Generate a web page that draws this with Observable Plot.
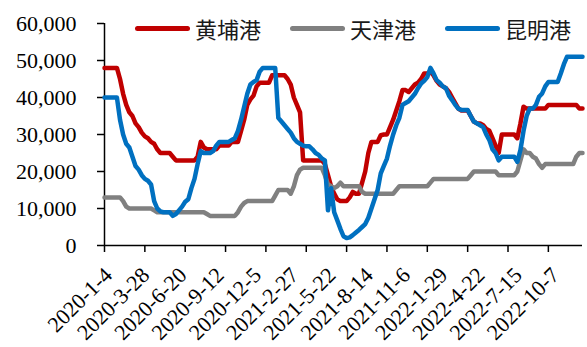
<!DOCTYPE html>
<html>
<head>
<meta charset="utf-8">
<script src="https://cdn.jsdelivr.net/npm/d3@7"></script>
<script src="https://cdn.jsdelivr.net/npm/@observablehq/plot@0.6"></script>
<style>
  body { margin: 0; background: #fff; }
  #chart { position: relative; width: 587px; height: 347px; }
  .legend { position: absolute; top: 12px; left: 135px; display: flex; align-items: center; white-space: nowrap;
            width: max-content; font-family: "Noto Sans CJK SC", sans-serif; font-size: 22px; color: #1a1a1a; }
  .item { display: flex; align-items: center; margin-right: 29px; flex: none; }
  .sw { width: 55px; height: 5px; border-radius: 3px; margin-right: 5px; flex: none; }
</style>
</head>
<body>
<div id="chart"></div>
<script>
// Weekly port prices, first week 2020-1-4
const series = ["黄埔港", "天津港", "昆明港"];
const colors = ["#C00000", "#808080", "#0070C0"];

const huangpu = [
  48000, 48000, 48000, 48000, 48000, 45000, 41000, 38000, 36000, 35000,
  33000, 32000, 30500, 29500, 29000, 28000, 27500, 26000, 25000, 25000,
  25000, 25000, 24000, 23000, 23000, 23000, 23000, 23000, 23000, 23000,
  24000, 28000, 26500, 26000, 26000, 26000, 26000, 27000, 27000, 27000,
  27000, 28000, 28000, 28000, 31000, 34000, 38000, 39500, 40500, 43000,
  44000, 44000, 44000, 44000, 46000, 46000, 46000, 46000, 46000, 45000,
  43500, 40000, 38000, 36000, 23000, 23000, 23000, 23000, 23000, 23000,
  23000, 22000, 19000, 16000, 14000, 12500, 12000, 12000, 12000, 13000,
  14500, 14000, 14000, 17000, 20000, 25000, 28000, 28000, 28000, 29800,
  30000, 30000, 32000, 34000, 36500, 39000, 42000, 42000, 41500, 42500,
  43500, 44000, 45000, 46500, 46500, 47000, 46000, 44500, 43500, 43000,
  42500, 41500, 40000, 38500, 37000, 36500, 36500, 36500, 35000, 33500,
  33000, 33000, 32500, 31500, 31000, 29000, 27000, 25000, 30000, 30000,
  30000, 30000, 30000, 29000, 33000, 37500, 37000, 37000, 37000, 37000,
  37000, 37000, 37000, 38000, 38000, 38000, 38000, 38000, 38000, 38000,
  38000, 38000, 38000, 37000, 37000
];

const tianjin = [
  13000, 13000, 13000, 13000, 13000, 13000, 12000, 10500, 10000, 10000,
  10000, 10000, 10000, 10000, 10000, 10000, 9500, 9000, 9000, 9000,
  9000, 9000, 9000, 9000, 9000, 9000, 9000, 9000, 9000, 9000,
  9000, 9000, 9000, 8500, 8000, 8000, 8000, 8000, 8000, 8000,
  8000, 8000, 8000, 9000, 10500, 11500, 12000, 12000, 12000, 12000,
  12000, 12000, 12000, 12000, 12000, 13500, 15000, 15000, 15000, 15000,
  14000, 16000, 19000, 20500, 21000, 21000, 21000, 21000, 21000, 21000,
  21000, 19000, 16500, 16000, 15500, 16000, 17000, 16000, 16000, 16000,
  16000, 16000, 16000, 14500, 14000, 14000, 14000, 14000, 14000, 14000,
  14000, 14000, 14000, 14000, 15000, 16000, 16000, 16000, 16000, 16000,
  16000, 16000, 16000, 16000, 16000, 17000, 18000, 18000, 18000, 18000,
  18000, 18000, 18000, 18000, 18000, 18000, 18000, 18000, 19000, 20000,
  20000, 20000, 20000, 20000, 20000, 20000, 20000, 19000, 19000, 19000,
  19000, 19000, 19000, 20000, 23000, 26000, 25000, 25000, 24000, 23500,
  22000, 21000, 22000, 22000, 22000, 22000, 22000, 22000, 22000, 22000,
  22000, 22000, 24000, 25000, 25000
];

const kunming = [
  40000, 40000, 40000, 40000, 40000, 34000, 30000, 27500, 26500, 24000,
  21500, 20500, 19000, 18000, 17500, 16500, 12000, 10000, 9200, 9000,
  9000, 9000, 8000, 8500, 9500, 10500, 11800, 12500, 15500, 18000,
  22000, 25500, 25000, 25000, 25000, 25500, 27000, 28000, 28000, 28000,
  28000, 28500, 29000, 31000, 34000, 37500, 41000, 43500, 44200, 44700,
  47000, 48000, 48000, 48000, 48000, 48000, 34500, 33500, 32500, 31500,
  30500, 29000, 28000, 27500, 27000, 26800, 26800, 26000, 25000, 24500,
  23500, 23000, 9500, 15500, 9000, 6800, 4500, 2500, 2000, 2200,
  2800, 3500, 4200, 5000, 5800, 7500, 10000, 12500, 15000, 19500,
  21500, 23500, 27000, 30000, 32500, 34500, 38000, 38500, 39000, 40000,
  41000, 42500, 43800, 44500, 45500, 48000, 46500, 44700, 44000, 43000,
  42500, 40500, 39300, 38000, 37000, 36600, 36600, 36600, 35000, 33500,
  33000, 32500, 32000, 30000, 28500, 26000, 25000, 23000, 24000, 24000,
  24000, 24000, 24000, 22600, 25800, 31000, 35000, 37000, 37000, 38000,
  40200, 41100, 43000, 44200, 44200, 44200, 44200, 46500, 49000, 51000,
  51000, 51000, 51000, 51000, 51000
];

// Category labels, one every 12 weeks; tick marks fall every 13 weeks
const tickLabels = [
  "2020-1-4", "2020-3-28", "2020-6-20", "2020-9-12", "2020-12-5", "2021-2-27",
  "2021-5-22", "2021-8-14", "2021-11-6", "2022-1-29", "2022-4-22", "2022-7-15", "2022-10-7"
];
const labelEvery = 12;
const tickEvery = 13;
const yTicks = [0, 10000, 20000, 30000, 40000, 50000, 60000];

const values = [huangpu, tianjin, kunming];
const N = huangpu.length;
const rows = [];
series.forEach((name, s) => values[s].forEach((v, i) => rows.push({name, week: i, price: v})));

const labelWeeks = tickLabels.map((_, k) => k * labelEvery);
const tickWeeks = d3.range(0, N, tickEvery);

const serifFont = '"Liberation Serif", "Times New Roman", Times, "DejaVu Serif", serif';

const plot = Plot.plot({
  width: 587,
  height: 347,
  marginLeft: 104,
  marginRight: 5,
  marginTop: 23,
  marginBottom: 102,
  style: {background: "#fff", color: "#000", overflow: "visible", fontFamily: serifFont, fontSize: "22px"},
  x: {domain: [0, N - 1], label: null},
  y: {domain: [0, 60000], label: null},
  color: {domain: series, range: colors},
  marks: [
    Plot.axisY(yTicks, {tickFormat: d3.format(","), tickSize: 7, tickPadding: 21, strokeWidth: 1.5, label: null,
                        fontFamily: serifFont, fontSize: 22}),
    Plot.axisX(tickWeeks, {tickFormat: () => "", tickSize: 7, strokeWidth: 1.5, label: null}),
    Plot.axisX(labelWeeks, {tickFormat: (w) => tickLabels[w / labelEvery], tickSize: 0, tickPadding: 26, dx: 4,
                            tickRotate: -45, label: null, fontFamily: serifFont, fontSize: 22}),
    Plot.ruleX([0], {stroke: "#000", strokeWidth: 1.5}),
    Plot.ruleY([0], {stroke: "#000", strokeWidth: 1.5}),
    Plot.line(rows, {x: "week", y: "price", z: "name", stroke: "name", strokeWidth: 4.5,
                     strokeLinejoin: "round", strokeLinecap: "round"})
  ]
});

const chart = document.getElementById("chart");
chart.appendChild(plot);

const legend = document.createElement("div");
legend.className = "legend";
series.forEach((name, s) => {
  const item = document.createElement("div");
  item.className = "item";
  const sw = document.createElement("span");
  sw.className = "sw";
  sw.style.background = colors[s];
  const label = document.createElement("span");
  label.textContent = name;
  item.append(sw, label);
  legend.appendChild(item);
});
chart.appendChild(legend);
</script>
</body>
</html>
